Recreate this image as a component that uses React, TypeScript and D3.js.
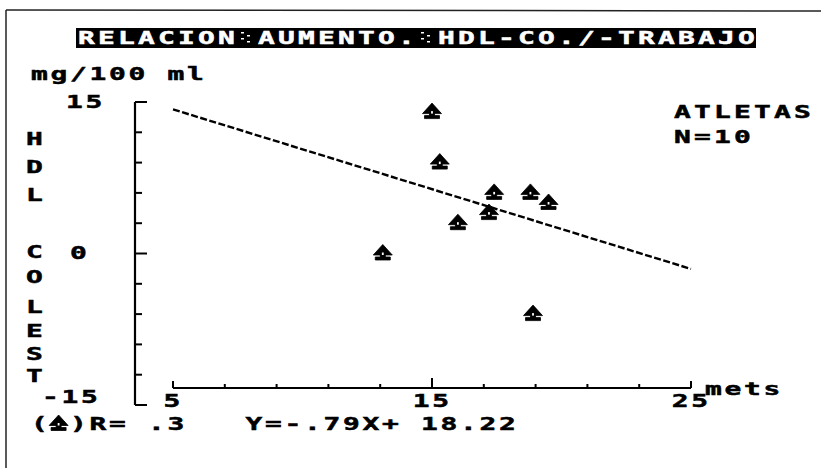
import * as d3 from "d3";

const W = 821;
const H = 468;

// data
const xValues = [15.0, 15.3, 17.4, 18.8, 19.5, 17.2, 16.0, 13.1, 18.9];
const yValues = [14, 9, 6, 6, 5, 4, 3, 0, -6];
const slope = -0.79;
const intercept = 18.22;
const xTickLabels = [5, 15, 25];
const yTickLabels = [15, 0, -15];
const titleText = "RELACION AUMENTO. HDL-CO./-TRABAJO";
const unitText = "mg/100 ml";
const yTitleLetters = ["H", "D", "L", "C", "O", "L", "E", "S", "T"];
const groupLines = ["ATLETAS", "N=10"];
const xUnit = "mets";
const statText = ")R= .3   Y=-.79X+ 18.22";

const FONT = "DejaVu Sans Mono";
const SX = 1.55;
const FS = 18;
const ADV = 0.602 * FS * SX;

function Mono({ x, y, text, pitch = 19.5, fill = "#000" }: { x: number; y: number; text: string; pitch?: number; fill?: string }) {
  return (
    <g>
      {[...text].map((c, i) =>
        c === " " ? null : (
          <text
            key={i}
            transform={`translate(${x + i * pitch},${y}) scale(${SX},1)`}
            fontFamily={FONT}
            fontWeight="bold"
            fontSize={FS}
            fill={fill}
            stroke={fill}
            strokeWidth={0.5}
          >
            {c}
          </text>
        )
      )}
    </g>
  );
}

// spade-like marker used by the original plotter
const marker =
  "M0,-9 L9.5,1.5 L-9.5,1.5 Z M-2.5,1.5 L2.5,1.5 L2.5,3.5 L-2.5,3.5 Z M-7.5,3.5 L7.5,3.5 L7.5,6.5 L-7.5,6.5 Z";

function Marker({ cx, cy }: { cx: number; cy: number }) {
  return (
    <g transform={`translate(${cx},${cy})`}>
      <path d={marker} fill="#000" stroke="#000" strokeWidth={0.8} strokeLinejoin="round" />
      <rect x={-0.9} y={-1} width={1.8} height={2.5} fill="#fff" />
    </g>
  );
}

export default function App() {
  const x = d3.scaleLinear().domain([5, 25]).range([173, 691]);
  const y = d3.scaleLinear().domain([-15, 15]).range([405, 102]);

  const xTicks = d3.range(5, 26, 2);
  const yTicks = d3.range(-15, 16, 3);

  const fit = d3
    .line<number>()
    .x((d) => x(d))
    .y((d) => y(slope * d + intercept));

  const titleX = 78;
  const titlePitch = 20;
  const yLetterBase = [145, 173, 201, 258, 283, 313, 337, 360, 382];

  const axisLeft = x.range()[0] - 38;

  return (
    <svg
      width={W}
      height={H}
      style={{ position: "absolute", left: 0, top: 0, display: "block", background: "#fff" }}
    >
      <rect width={W} height={H} fill="#fff" />
      {/* frame */}
      <line x1={6} y1={10} x2={W} y2={11} stroke="#222" strokeWidth={1.5} />
      <line x1={6} y1={10} x2={6} y2={H} stroke="#222" strokeWidth={1.5} />

      {/* title, reversed */}
      <rect x={titleX - 2} y={28} width={titleText.length * titlePitch} height={20} fill="#000" />
      <Mono x={titleX} y={44} text={titleText} pitch={titlePitch} fill="#fff" />
      {[...titleText].map((c, i) =>
        c === " " ? (
          <g key={i} fill="#fff">
            {d3.range(0, 4).map((k) => (
              <rect key={k} x={titleX + i * titlePitch + 3 + (k % 2) * 6} y={32 + k * 3} width={3} height={1.5} />
            ))}
          </g>
        ) : null
      )}

      <Mono x={31} y={80} text={unitText} />

      {/* y axis */}
      <line x1={axisLeft} x2={axisLeft} y1={y(-15)} y2={y(15)} stroke="#000" strokeWidth={2.2} />
      {yTicks.map((t) => (
        <line
          key={t}
          x1={axisLeft}
          x2={axisLeft + (t === 0 || Math.abs(t) === 15 ? 12 : 7)}
          y1={y(t)}
          y2={y(t)}
          stroke="#000"
          strokeWidth={2}
        />
      ))}
      {yTickLabels.map((t) => {
        const s = String(t);
        const ox = t === 15 ? 66 : t === 0 ? 70 : 42;
        const base = t === 15 ? 108 : t === 0 ? 259 : 403;
        return <Mono key={t} x={ox} y={base} text={s} />;
      })}
      {yTitleLetters.map((c, i) => (
        <Mono key={i} x={26} y={yLetterBase[i]} text={c} />
      ))}

      {/* x axis */}
      <line x1={x(5)} x2={x(25)} y1={388} y2={388} stroke="#000" strokeWidth={2} />
      {xTicks.map((t) => (
        <line
          key={t}
          x1={x(t)}
          x2={x(t)}
          y1={388}
          y2={388 - (t === 15 ? 10 : t === 5 || t === 25 ? 7 : 4)}
          stroke="#000"
          strokeWidth={2}
        />
      ))}
      {xTickLabels.map((t) => {
        const s = String(t);
        const center = x(t) - 1;
        return <Mono key={t} x={center - ((s.length - 1) * 19.5) / 2 - ADV / 2} y={407} text={s} />;
      })}
      <Mono x={705} y={395} text={xUnit} />

      {/* regression line */}
      <path
        d={fit([5, 25]) || ""}
        fill="none"
        stroke="#000"
        strokeWidth={2.4}
        strokeDasharray="7 2.5"
      />

      {/* points */}
      {xValues.map((v, i) => (
        <Marker key={i} cx={x(v)} cy={y(yValues[i])} />
      ))}

      {/* group label */}
      {groupLines.map((s, i) => (
        <Mono key={s} x={674} y={118 + i * 25} text={s} pitch={20} />
      ))}

      {/* stats */}
      <Mono x={31} y={430} text="(" />
      <Marker cx={58.6} cy={424} />
      <Mono x={31 + 2 * 19.5} y={430} text={statText} />
    </svg>
  );
}
